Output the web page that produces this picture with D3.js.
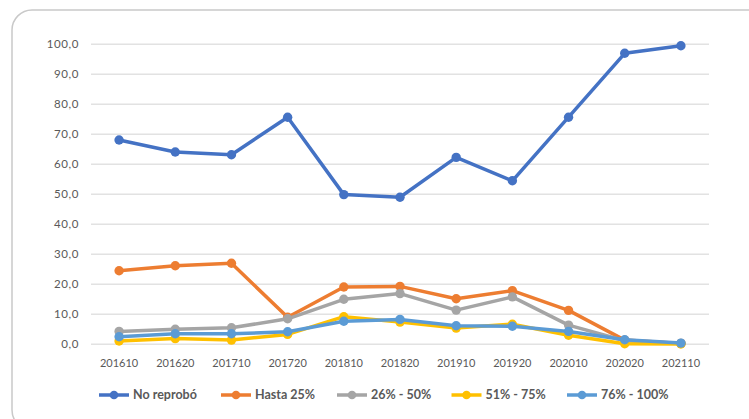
<!DOCTYPE html>
<html>
<head>
<meta charset="utf-8">
<script src="https://cdn.jsdelivr.net/npm/d3@7"></script>
<style>
  html, body { margin: 0; padding: 0; background: #fff; }
  svg { display: block; }
  text { font-family: Lato, "Open Sans", sans-serif; }
</style>
</head>
<body>
<div id="chart"></div>
<script>
const categories = ["201610","201620","201710","201720","201810","201820","201910","201920","202010","202020","202110"];
const seriesNames = ["No reprobó","Hasta 25%","26% - 50%","51% - 75%","76% - 100%"];
const noReprobo = [68.1, 64.1, 63.2, 75.7, 49.9, 49.0, 62.3, 54.5, 75.7, 97.0, 99.5];
const hasta25   = [24.5, 26.2, 27.0, 9.0, 19.1, 19.3, 15.2, 17.9, 11.3, 1.4, 0.3];
const p26_50    = [4.3, 5.0, 5.5, 8.5, 15.0, 16.9, 11.4, 15.8, 6.4, 1.2, 0.3];
const p51_75    = [1.1, 1.9, 1.4, 3.3, 9.2, 7.4, 5.4, 6.7, 3.0, 0.2, 0.1];
const p76_100   = [2.5, 3.5, 3.5, 4.2, 7.7, 8.3, 6.2, 6.0, 4.3, 1.5, 0.4];
const yTicks = [0,10,20,30,40,50,60,70,80,90,100];
const colors = ["#4472C4","#ED7D31","#A5A5A5","#FFC000","#5B9BD5"];

const W = 749, H = 419;
const svg = d3.select("#chart").append("svg").attr("width", W).attr("height", H);

// frame
svg.append("rect")
  .attr("x", 12).attr("y", 10)
  .attr("width", 780).attr("height", 420)
  .attr("rx", 20).attr("ry", 20)
  .attr("fill", "none").attr("stroke", "#c9c9c9").attr("stroke-width", 1.5);

const x = d3.scaleBand().domain(categories).range([91, 709]);
const y = d3.scaleLinear().domain([0, 100]).range([344.3, 44.3]);

// gridlines
svg.append("g").selectAll("line").data(yTicks).join("line")
  .attr("x1", 91).attr("x2", 709)
  .attr("y1", d => y(d)).attr("y2", d => y(d))
  .attr("stroke", "#e2e2e2").attr("stroke-width", 1.5);

// y axis labels
const fmt = d => d3.format(".1f")(d).replace(".", ",");
svg.append("g").selectAll("text").data(yTicks).join("text")
  .attr("x", 79).attr("y", d => y(d)).attr("dy", "0.35em")
  .attr("text-anchor", "end")
  .attr("font-size", 11.5).attr("letter-spacing", 0.6).attr("fill", "#595959")
  .text(fmt);

// x axis labels
svg.append("g").selectAll("text").data(categories).join("text")
  .attr("x", d => x(d) + x.bandwidth()/2).attr("y", 363).attr("dy", "0.35em")
  .attr("text-anchor", "middle")
  .attr("font-size", 11).attr("fill", "#595959")
  .text(d => d);

const allSeries = [noReprobo, hasta25, p26_50, p51_75, p76_100];
const line = d3.line().x((d, i) => x(categories[i]) + x.bandwidth()/2).y(d => y(d));

allSeries.forEach((vals, si) => {
  const g = svg.append("g");
  g.append("path").datum(vals)
    .attr("d", line).attr("fill", "none")
    .attr("stroke", colors[si]).attr("stroke-width", 3.5)
    .attr("stroke-linejoin", "round");
  g.selectAll("circle").data(vals).join("circle")
    .attr("cx", (d, i) => x(categories[i]) + x.bandwidth()/2)
    .attr("cy", d => y(d))
    .attr("r", 4.7).attr("fill", colors[si]);
});

// legend
const legendX = [99, 221, 337, 451.5, 567];
const lg = svg.append("g");
seriesNames.forEach((name, i) => {
  const lx = legendX[i], ly = 395;
  lg.append("line").attr("x1", lx).attr("x2", lx + 30).attr("y1", ly).attr("y2", ly)
    .attr("stroke", colors[i]).attr("stroke-width", 3.5);
  lg.append("circle").attr("cx", lx + 15).attr("cy", ly).attr("r", 4.3).attr("fill", colors[i]);
  lg.append("text").attr("x", lx + 34).attr("y", ly).attr("dy", "0.35em")
    .attr("font-size", 12.5).attr("font-weight", "bold").attr("fill", "#595959")
    .text(name);
});
</script>
</body>
</html>
